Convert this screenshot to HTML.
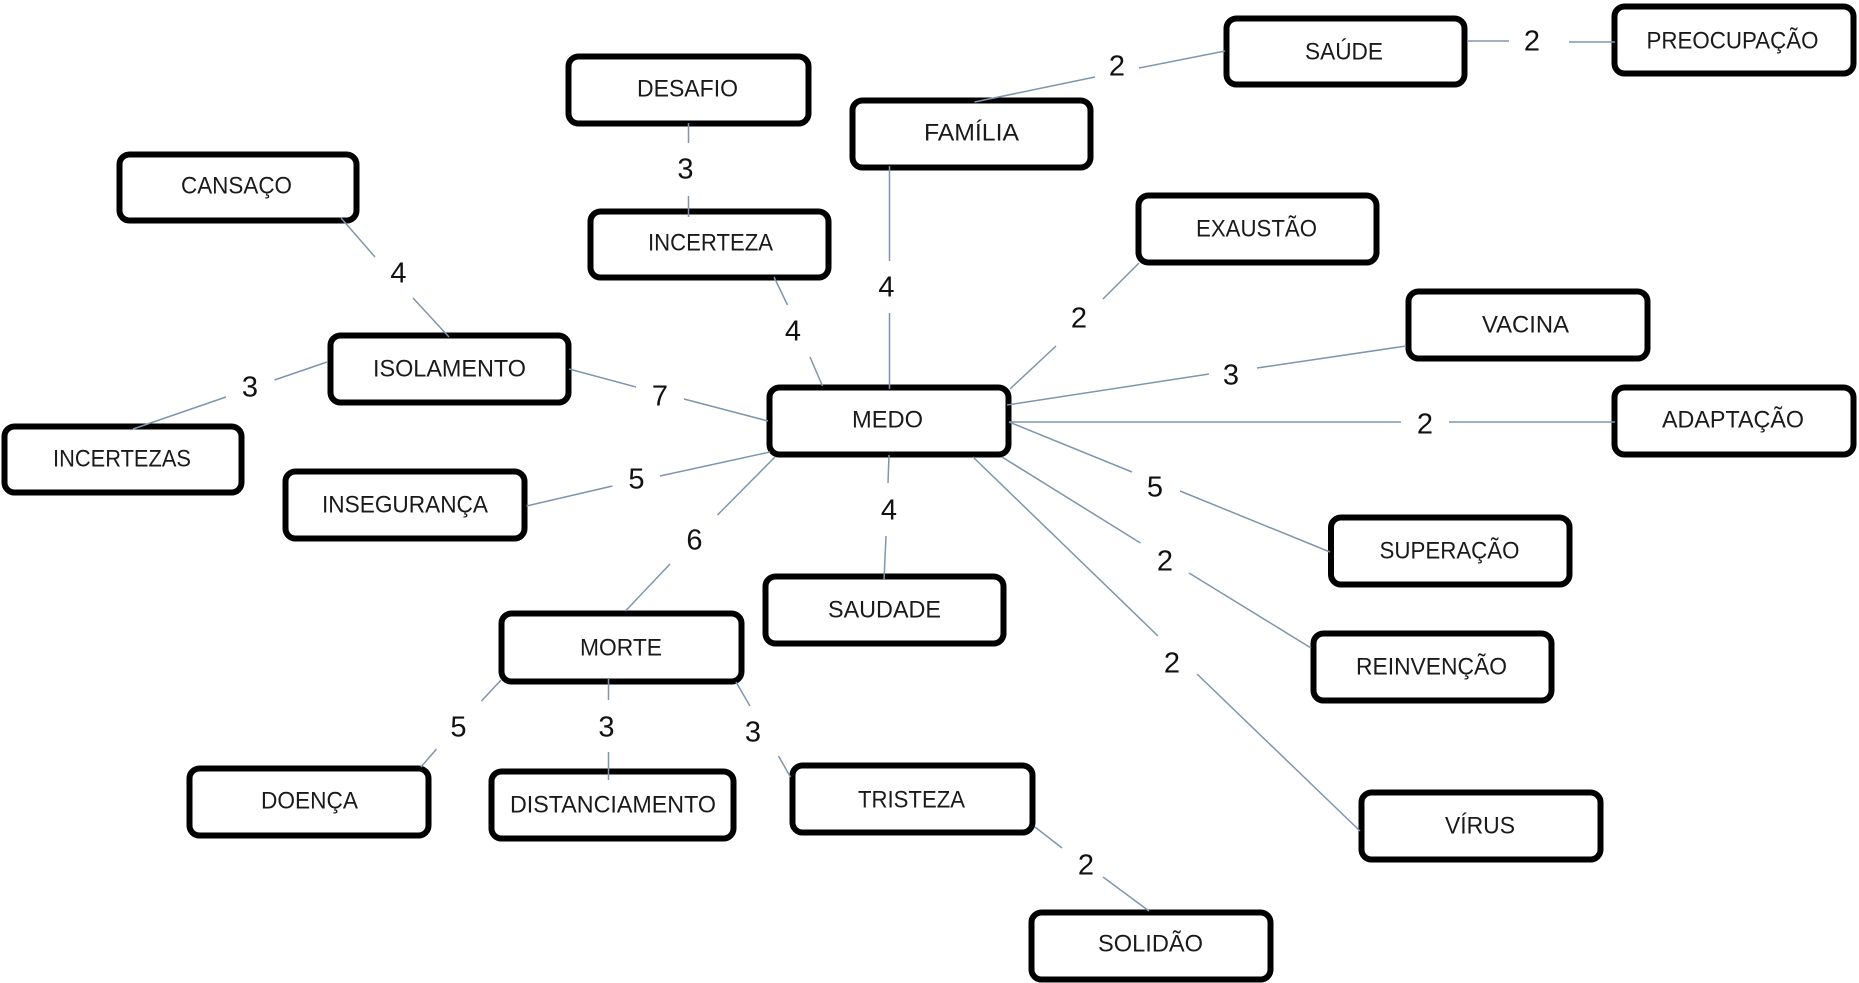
<!DOCTYPE html>
<html lang="pt"><head><meta charset="utf-8"><title>Diagrama MEDO</title>
<style>
html,body{margin:0;padding:0;background:#fff;width:1859px;height:983px;overflow:hidden}
svg{display:block}
.b{fill:#fff;stroke:#000;stroke-width:6}
.t{font:24px "Liberation Sans",Arial,sans-serif;fill:#1a1a1a}
.n{font:29px "Liberation Sans",Arial,sans-serif;fill:#111;text-anchor:middle}
.l{stroke:#7f95ae;stroke-width:1.5;fill:none}
</style></head><body>
<svg xmlns="http://www.w3.org/2000/svg" width="1859" height="983" viewBox="0 0 1859 983">
<rect width="1859" height="983" fill="#fff"/>
<g>
<rect class="b" x="568.5" y="56.5" width="240" height="67" rx="10"/>
<rect class="b" x="119.5" y="154.5" width="237" height="66" rx="10"/>
<rect class="b" x="590.5" y="211.5" width="238" height="66" rx="10"/>
<rect class="b" x="330.5" y="335.5" width="238" height="67" rx="10"/>
<rect class="b" x="4.5" y="426.5" width="237" height="66" rx="10"/>
<rect class="b" x="852.5" y="100.5" width="238" height="67" rx="10"/>
<rect class="b" x="769.5" y="387.5" width="239" height="67" rx="10"/>
<rect class="b" x="1226.5" y="18.5" width="238" height="66" rx="10"/>
<rect class="b" x="1614.5" y="6.5" width="239" height="67" rx="10"/>
<rect class="b" x="1138.5" y="195.5" width="238" height="67" rx="10"/>
<rect class="b" x="1408.5" y="291.5" width="239" height="67" rx="10"/>
<rect class="b" x="1614.5" y="387.5" width="239" height="67" rx="10"/>
<rect class="b" x="285.5" y="471.5" width="239" height="67" rx="10"/>
<rect class="b" x="501.5" y="613.5" width="240" height="68" rx="10"/>
<rect class="b" x="765.5" y="576.5" width="238" height="67" rx="10"/>
<rect class="b" x="189.5" y="768.5" width="239" height="67" rx="10"/>
<rect class="b" x="491.5" y="771.5" width="242" height="67" rx="10"/>
<rect class="b" x="792.5" y="765.5" width="240" height="67" rx="10"/>
<rect class="b" x="1331" y="517.5" width="238.5" height="67" rx="10"/>
<rect class="b" x="1313.5" y="633.5" width="238" height="67" rx="10"/>
<rect class="b" x="1361.5" y="792.5" width="239" height="67" rx="10"/>
<rect class="b" x="1031.5" y="912.5" width="239" height="67" rx="10"/>
</g>
<g class="l">
<path d="M341 218L375 257M413 298L449 337"/>
<path d="M688.5 123V143M688.5 196V217"/>
<path d="M774 277L787.5 305M810 357L822.5 386"/>
<path d="M889.5 166V261M889.5 313V389"/>
<path d="M327 362L274.5 380M226 397L133 429"/>
<path d="M569 369L636 387M684 399L768 421"/>
<path d="M770 452L660 476M612.5 486L526.5 506"/>
<path d="M775 457L717.5 515M670 564L625.5 611"/>
<path d="M889 455L888 483M886 536L884 580"/>
<path d="M501 680L481.5 701M436.5 749L421 767"/>
<path d="M608.5 679V700M608.5 752V780"/>
<path d="M736 682L750 706M778.5 756L790.5 777"/>
<path d="M1035 827L1062 848M1103 877L1149 911"/>
<path d="M974.5 102L1095 77M1139 68L1225 51"/>
<path d="M1467 41H1509M1569 42H1615"/>
<path d="M1139 263L1103 299M1056 346L1010 389"/>
<path d="M1406 346L1257 368M1209 374L1007 405"/>
<path d="M1009 422H1401M1449 422H1615"/>
<path d="M1009 422L1132 472M1180 491L1330 552"/>
<path d="M1002 457L1140.5 543M1189 573L1311 648"/>
<path d="M973 457L1158 636M1197 674L1360 831"/>
</g>
<g class="t" transform="translate(0,-1)">
<text x="637" y="97.5" textLength="101" lengthAdjust="spacingAndGlyphs">DESAFIO</text>
<text x="181" y="194.5" textLength="111" lengthAdjust="spacingAndGlyphs">CANSAÇO</text>
<text x="648" y="251.5" textLength="125" lengthAdjust="spacingAndGlyphs">INCERTEZA</text>
<text x="373" y="377.5" textLength="153" lengthAdjust="spacingAndGlyphs">ISOLAMENTO</text>
<text x="53" y="467.5" textLength="138" lengthAdjust="spacingAndGlyphs">INCERTEZAS</text>
<text x="924" y="141.5" textLength="95" lengthAdjust="spacingAndGlyphs">FAMÍLIA</text>
<text x="852" y="428.5" textLength="71" lengthAdjust="spacingAndGlyphs">MEDO</text>
<text x="1305" y="60.5" textLength="78" lengthAdjust="spacingAndGlyphs">SAÚDE</text>
<text x="1646.5" y="49.5" textLength="172" lengthAdjust="spacingAndGlyphs">PREOCUPAÇÃO</text>
<text x="1196" y="237.5" textLength="121" lengthAdjust="spacingAndGlyphs">EXAUSTÃO</text>
<text x="1482" y="333.5" textLength="87" lengthAdjust="spacingAndGlyphs">VACINA</text>
<text x="1662" y="428.5" textLength="142" lengthAdjust="spacingAndGlyphs">ADAPTAÇÃO</text>
<text x="322" y="513.5" textLength="166" lengthAdjust="spacingAndGlyphs">INSEGURANÇA</text>
<text x="580" y="656.5" textLength="82" lengthAdjust="spacingAndGlyphs">MORTE</text>
<text x="828" y="618.5" textLength="113" lengthAdjust="spacingAndGlyphs">SAUDADE</text>
<text x="261" y="809.5" textLength="97" lengthAdjust="spacingAndGlyphs">DOENÇA</text>
<text x="510" y="813.5" textLength="206" lengthAdjust="spacingAndGlyphs">DISTANCIAMENTO</text>
<text x="858" y="808.5" textLength="107" lengthAdjust="spacingAndGlyphs">TRISTEZA</text>
<text x="1379.5" y="559.5" textLength="140" lengthAdjust="spacingAndGlyphs">SUPERAÇÃO</text>
<text x="1356" y="675.5" textLength="151" lengthAdjust="spacingAndGlyphs">REINVENÇÃO</text>
<text x="1445" y="834.5" textLength="70" lengthAdjust="spacingAndGlyphs">VÍRUS</text>
<text x="1098" y="952.5" textLength="105" lengthAdjust="spacingAndGlyphs">SOLIDÃO</text>
</g>
<g class="n" transform="translate(0,-0.5)">
<text x="398.5" y="283">4</text>
<text x="685.5" y="179">3</text>
<text x="793" y="341">4</text>
<text x="886.5" y="297">4</text>
<text x="250" y="397">3</text>
<text x="660" y="406">7</text>
<text x="636.5" y="489">5</text>
<text x="1117" y="76">2</text>
<text x="1532" y="51">2</text>
<text x="1079" y="328">2</text>
<text x="1231" y="385">3</text>
<text x="1425" y="434">2</text>
<text x="1155" y="497">5</text>
<text x="694.5" y="550">6</text>
<text x="889" y="520">4</text>
<text x="458.5" y="737">5</text>
<text x="606.5" y="737">3</text>
<text x="753" y="742">3</text>
<text x="1165" y="571">2</text>
<text x="1172" y="673">2</text>
<text x="1086" y="875">2</text>
</g>
</svg>
</body></html>
